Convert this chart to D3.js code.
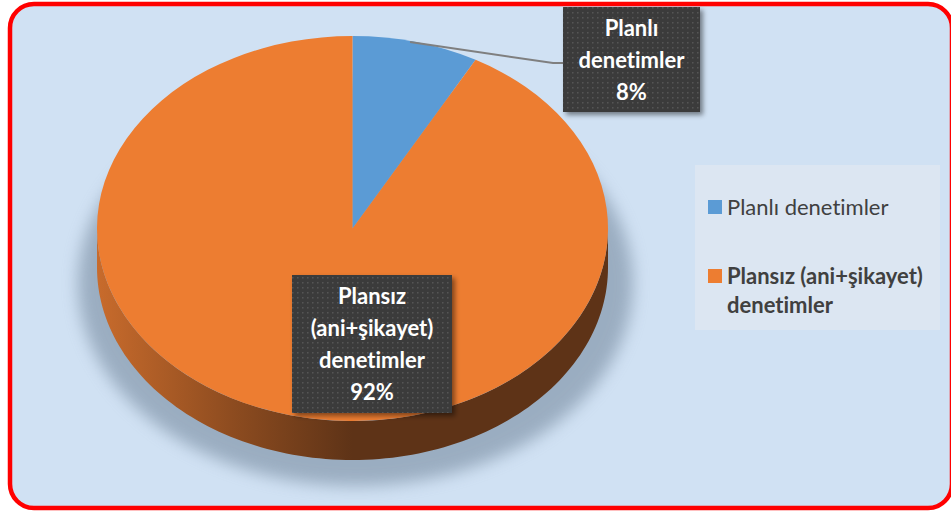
<!DOCTYPE html>
<html>
<head>
<meta charset="utf-8">
<script src="https://cdn.jsdelivr.net/npm/d3@7"></script>
<style>
  html, body { margin: 0; padding: 0; background: #ffffff; }
  svg { display: block; }
  text { font-variant-ligatures: none; font-feature-settings: "liga" 0; }
</style>
</head>
<body>
<svg id="chart" width="951" height="511"></svg>
<script>
// Inspection types and their shares
const categories = ["Planlı denetimler", "Plansız (ani+şikayet) denetimler"];
const values = [8, 92];
const percentLabels = ["8%", "92%"];
const boxLines = [["Planlı", "denetimler"], ["Plansız", "(ani+şikayet)", "denetimler"]];
const legendLines = [["Planlı denetimler"], ["Plansız (ani+şikayet)", "denetimler"]];
const colors = ["#5b9bd5", "#ed7d31"];

const svg = d3.select("#chart");
const defs = svg.append("defs");

// Chart frame
svg.append("rect")
  .attr("x", 10).attr("y", 4).attr("width", 942).attr("height", 504)
  .attr("rx", 24).attr("ry", 24)
  .attr("fill", "#d0e1f3").attr("stroke", "#ff0000").attr("stroke-width", 4.5);

// Pie geometry (tilted ellipse with extruded side)
const cx = 352.5, cy = 228.5, rx = 255.5, ry = 192.5, depth = 39;
const k = ry / rx;

const arcs = d3.pie().sort(null).value(d => d)(values);

// Soft shadow under the pie
defs.append("filter").attr("id", "blurShadow")
  .attr("x", "-20%").attr("y", "-20%").attr("width", "140%").attr("height", "140%")
  .append("feGaussianBlur").attr("stdDeviation", 8);
svg.append("ellipse")
  .attr("cx", cx + 3).attr("cy", cy + 55).attr("rx", rx + 22).attr("ry", ry + 10)
  .attr("fill", "#7a8ea3").attr("opacity", 0.62)
  .attr("filter", "url(#blurShadow)");

// Side gradients
const sideColors = [
  ["#4a7fb0", "#2f5a82", "#2a5075"],
  ["#c86b2c", "#8a4a1f", "#5e3317"]
];
sideColors.forEach((c, i) => {
  const g = defs.append("linearGradient").attr("id", "side" + i)
    .attr("gradientUnits", "userSpaceOnUse")
    .attr("x1", cx - rx).attr("x2", cx + rx).attr("y1", 0).attr("y2", 0);
  g.append("stop").attr("offset", "0%").attr("stop-color", c[0]);
  g.append("stop").attr("offset", "28%").attr("stop-color", c[1]);
  g.append("stop").attr("offset", "50%").attr("stop-color", c[2]);
  g.append("stop").attr("offset", "100%").attr("stop-color", c[2]);
});

// Visible (front) part of each slice's side wall
const ex = a => cx + rx * Math.sin(a);
const ey = a => cy - ry * Math.cos(a);
const sideLine = d3.line();
arcs.forEach((a, i) => {
  const a0 = Math.max(a.startAngle, Math.PI / 2);
  const a1 = Math.min(a.endAngle, 3 * Math.PI / 2);
  if (a1 <= a0) return;
  const angs = d3.range(0, 121).map(t => a0 + (a1 - a0) * t / 120);
  const pts = angs.map(t => [ex(t), ey(t)])
    .concat(angs.slice().reverse().map(t => [ex(t), ey(t) + depth]));
  svg.append("path")
    .attr("d", sideLine(pts) + "Z")
    .attr("fill", `url(#side${i})`);
});

// Top faces
const arcGen = d3.arc().innerRadius(0).outerRadius(rx);
const topFace = svg.append("g").attr("transform", `translate(${cx},${cy}) scale(1,${k})`);
topFace.selectAll("path").data(arcs).enter().append("path")
  .attr("d", arcGen)
  .attr("fill", (d, i) => colors[i]);

// Label boxes
const pat = defs.append("pattern").attr("id", "dots")
  .attr("patternUnits", "userSpaceOnUse").attr("width", 5).attr("height", 5);
pat.append("rect").attr("width", 5).attr("height", 5).attr("fill", "#3b3b3b");
pat.append("rect").attr("x", 2).attr("y", 2).attr("width", 1.5).attr("height", 1.5).attr("fill", "#545454");

const boxShadow = defs.append("filter").attr("id", "boxShadow")
  .attr("x", "-20%").attr("y", "-20%").attr("width", "150%").attr("height", "150%");
boxShadow.append("feDropShadow").attr("dx", 3).attr("dy", 3).attr("stdDeviation", 2.5)
  .attr("flood-color", "#000").attr("flood-opacity", 0.45);

const boxes = [
  { x: 563, y: 7, w: 137, h: 105 },
  { x: 292, y: 275, w: 160, h: 138 }
];

// Leader line from the small slice to its label box
const mid0 = (arcs[0].startAngle + arcs[0].endAngle) / 2;
svg.append("path")
  .attr("d", d3.line()([[ex(mid0) - 6, ey(mid0)], [boxes[0].x - 10, boxes[0].y + 56], [boxes[0].x, boxes[0].y + 56]]))
  .attr("fill", "none").attr("stroke", "#7f7f7f").attr("stroke-width", 2);

const lineH = 32;
boxes.forEach((b, i) => {
  svg.append("rect")
    .attr("x", b.x).attr("y", b.y).attr("width", b.w).attr("height", b.h)
    .attr("fill", "url(#dots)").attr("filter", "url(#boxShadow)");
  const lines = boxLines[i].concat([percentLabels[i]]);
  const t = svg.append("text")
    .attr("text-anchor", "middle")
    .attr("font-family", "Lato, 'Open Sans', sans-serif")
    .attr("font-weight", "bold").attr("font-size", 22)
    .attr("fill", "#ffffff");
  const y0 = b.y + b.h / 2 - (lines.length - 1) * lineH / 2 + 8;
  lines.forEach((s, j) => {
    t.append("tspan").attr("x", b.x + b.w / 2).attr("y", y0 + j * lineH).text(s);
  });
});

// Legend
svg.append("rect")
  .attr("x", 695).attr("y", 165).attr("width", 245).attr("height", 165)
  .attr("fill", "#dce6f2");
const legendY = [215, 284];
categories.forEach((c, i) => {
  svg.append("rect")
    .attr("x", 708).attr("y", legendY[i] - 15).attr("width", 14).attr("height", 14)
    .attr("fill", colors[i]);
  const t = svg.append("text")
    .attr("font-family", "Lato, 'Open Sans', sans-serif")
    .attr("font-size", 22)
    .attr("font-weight", i === 1 ? "bold" : "normal")
    .attr("fill", "#404040");
  legendLines[i].forEach((s, j) => {
    t.append("tspan").attr("x", 727).attr("y", legendY[i] + j * 29).text(s);
  });
});
</script>
</body>
</html>
